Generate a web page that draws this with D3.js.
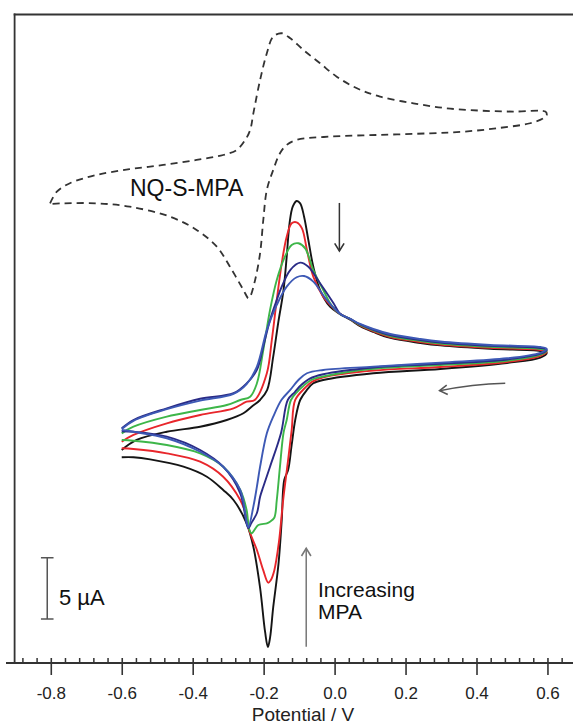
<!DOCTYPE html>
<html>
<head>
<meta charset="utf-8">
<script src="https://cdn.jsdelivr.net/npm/d3@7"></script>
<style>
  body { margin: 0; background: #fff; }
  text { font-family: "Liberation Sans", Arial, Helvetica, sans-serif; }
</style>
</head>
<body>
<div id="container"></div>
<script>
// potential (V) vs current (uA)
// each trace: forward scan (upper branch) then reverse scan (lower branch)
const nqCV = [
  [-0.802,16.04],[-0.783,16.99],[-0.746,17.68],[-0.671,18.35],[-0.578,18.82],[-0.483,19.17],[-0.389,19.58],
  [-0.314,19.98],[-0.276,20.39],[-0.252,21.21],[-0.238,22.02],[-0.229,23.38],[-0.210,26.10],[-0.191,28.28],
  [-0.173,29.63],[-0.149,29.91],[-0.125,29.50],[-0.088,28.55],[-0.041,27.46],[0.006,26.37],[0.063,25.42],
  [0.128,24.74],[0.222,24.20],[0.316,23.79],[0.410,23.60],[0.504,23.52],[0.594,23.52],[0.598,23.25],
  [0.589,22.98],[0.551,22.57],[0.457,22.16],[0.363,21.88],[0.269,21.75],[0.128,21.62],[-0.013,21.48],
  [-0.107,21.21],[-0.135,20.80],[-0.154,20.12],[-0.173,18.76],[-0.191,17.13],[-0.201,14.68],[-0.210,11.97],
  [-0.224,9.79],[-0.238,8.43],[-0.243,8.30],[-0.257,8.97],[-0.295,10.87],[-0.332,12.50],[-0.389,13.87],
  [-0.464,14.95],[-0.578,15.77],[-0.671,16.04],[-0.765,16.04],[-0.802,15.99]
]

const blackCV = [
  [-0.600,-4.08],[-0.558,-3.26],[-0.473,-2.59],[-0.379,-2.18],[-0.304,-1.63],[-0.257,-1.08],[-0.234,-0.55],
  [-0.210,0.00],[-0.190,0.82],[-0.173,3.53],[-0.159,6.28],[-0.144,8.97],[-0.135,11.69],[-0.127,14.41],
  [-0.118,15.77],[-0.107,16.23],[-0.097,16.04],[-0.086,14.95],[-0.074,13.05],[-0.060,10.87],[-0.041,8.97],
  [-0.013,7.61],[0.016,7.00],[0.044,6.55],[0.072,6.02],[0.109,5.55],[0.157,5.06],[0.242,4.65],[0.298,4.45],
  [0.439,4.17],[0.580,4.00],[0.598,3.85],
  [0.580,3.45],[0.486,3.02],[0.298,2.53],[0.109,2.18],[-0.032,1.63],[-0.060,1.36],[-0.078,0.82],[-0.097,0.00],
  [-0.111,-1.63],[-0.121,-3.67],[-0.131,-5.71],[-0.142,-6.53],[-0.149,-9.79],[-0.158,-13.32],[-0.173,-16.90],
  [-0.182,-19.40],[-0.188,-20.15],[-0.196,-18.90],[-0.210,-15.33],[-0.229,-11.97],[-0.248,-10.06],
  [-0.285,-8.16],[-0.314,-7.34],[-0.360,-6.26],[-0.426,-5.44],[-0.520,-4.84],[-0.567,-4.67],[-0.600,-4.67]
]

const redCV = [
  [-0.600,-3.40],[-0.567,-2.85],[-0.473,-1.90],[-0.379,-1.22],[-0.285,-0.68],[-0.248,-0.14],[-0.225,0.00],
  [-0.191,2.18],[-0.177,4.89],[-0.163,8.16],[-0.149,11.15],[-0.135,13.32],[-0.121,14.41],[-0.107,14.49],
  [-0.092,14.00],[-0.078,12.23],[-0.060,10.06],[-0.032,8.43],[-0.003,7.48],[0.016,7.00],[0.044,6.60],
  [0.072,6.08],[0.109,5.61],[0.157,5.14],[0.242,4.73],[0.298,4.53],[0.439,4.25],[0.580,4.08],[0.598,3.93],
  [0.580,3.60],[0.486,3.10],[0.298,2.69],[0.109,2.40],[-0.032,1.85],[-0.063,1.50],[-0.083,1.00],[-0.111,0.00],
  [-0.121,-2.45],[-0.131,-4.89],[-0.145,-8.16],[-0.157,-11.60],[-0.170,-13.90],[-0.180,-14.70],[-0.187,-14.90],
  [-0.201,-13.90],[-0.219,-12.23],[-0.241,-10.60],[-0.248,-9.52],[-0.266,-8.16],[-0.314,-6.26],[-0.379,-5.03],
  [-0.473,-4.35],[-0.567,-4.00],[-0.600,-3.94]
]

const greenCV = [
  [-0.600,-2.72],[-0.567,-2.18],[-0.473,-1.36],[-0.379,-0.82],[-0.304,-0.41],[-0.266,0.00],[-0.238,0.27],
  [-0.219,1.36],[-0.201,4.08],[-0.182,7.34],[-0.163,9.79],[-0.140,11.69],[-0.121,12.64],[-0.102,12.78],
  [-0.083,12.37],[-0.060,10.60],[-0.032,8.97],[-0.008,7.70],[0.016,7.00],[0.044,6.60],[0.072,6.12],
  [0.109,5.67],[0.157,5.22],[0.242,4.81],[0.298,4.61],[0.439,4.33],[0.580,4.16],[0.598,4.01],
  [0.580,3.70],[0.486,3.20],[0.298,2.85],[0.109,2.55],[-0.032,1.92],[-0.066,1.63],[-0.090,1.10],[-0.106,0.65],
  [-0.123,0.00],[-0.135,-1.63],[-0.144,-2.69],[-0.154,-5.44],[-0.163,-8.16],[-0.170,-9.60],[-0.182,-9.93],
  [-0.191,-10.06],[-0.215,-10.20],[-0.234,-10.87],[-0.241,-10.50],[-0.248,-8.97],[-0.266,-7.34],[-0.314,-5.44],
  [-0.379,-4.35],[-0.473,-3.67],[-0.567,-3.32],[-0.600,-3.26]
]

const navyCV = [
  [-0.600,-2.31],[-0.567,-1.63],[-0.473,-0.68],[-0.379,0.10],[-0.285,0.55],[-0.248,1.36],[-0.219,2.45],
  [-0.201,4.35],[-0.182,6.53],[-0.163,8.16],[-0.149,9.24],[-0.125,10.60],[-0.097,11.20],[-0.074,10.87],
  [-0.041,9.52],[-0.003,7.89],[0.016,7.01],[0.044,6.61],[0.072,6.16],[0.109,5.73],[0.157,5.30],[0.242,4.89],
  [0.298,4.69],[0.439,4.41],[0.580,4.24],[0.598,4.09],
  [0.580,3.78],[0.486,3.30],[0.298,2.95],[0.109,2.65],[-0.032,2.10],[-0.070,1.75],[-0.095,1.20],[-0.112,0.65],
  [-0.132,0.00],[-0.151,-2.69],[-0.182,-5.44],[-0.201,-7.07],[-0.210,-7.89],[-0.219,-9.22],[-0.235,-10.06],
  [-0.243,-10.47],[-0.248,-10.10],[-0.266,-7.61],[-0.314,-5.44],[-0.379,-4.08],[-0.473,-2.99],[-0.567,-2.59],
  [-0.600,-2.55]
]

const blueCV = [
  [-0.600,-2.37],[-0.567,-1.70],[-0.473,-0.75],[-0.379,-0.05],[-0.285,0.50],[-0.248,1.30],[-0.219,2.72],
  [-0.191,5.71],[-0.163,7.75],[-0.135,9.24],[-0.107,10.01],[-0.086,10.11],[-0.060,9.65],[-0.022,8.16],
  [0.016,7.01],[0.044,6.61],[0.072,6.20],[0.109,5.79],[0.157,5.38],[0.242,4.97],[0.298,4.77],[0.439,4.49],
  [0.580,4.32],[0.598,4.17],
  [0.580,3.85],[0.486,3.40],[0.298,3.05],[0.109,2.72],[-0.032,2.45],[-0.078,2.18],[-0.102,1.63],[-0.125,0.82],
  [-0.150,0.00],[-0.173,-1.36],[-0.191,-2.72],[-0.210,-5.44],[-0.219,-7.07],[-0.229,-8.70],[-0.243,-10.38],
  [-0.248,-9.93],[-0.266,-7.34],[-0.314,-5.44],[-0.379,-4.22],[-0.473,-3.12],[-0.567,-2.59],[-0.600,-2.45]
]

const traces = [
  { data: blackCV, color: '#151515' },
  { data: redCV, color: '#e8262b' },
  { data: greenCV, color: '#3db649' },
  { data: navyCV, color: '#2a2b86' },
  { data: blueCV, color: '#3d59b5' }
]

const majorTicks = [-0.8, -0.6, -0.4, -0.2, 0.0, 0.2, 0.4, 0.6]
const majorLabels = ['-0.8', '-0.6', '-0.4', '-0.2', '0.0', '0.2', '0.4', '0.6']
const minorTicks = [-0.88, -0.84, -0.76, -0.72, -0.68, -0.64, -0.56, -0.52, -0.48, -0.44,
  -0.36, -0.32, -0.28, -0.24, -0.16, -0.12, -0.08, -0.04, 0.04, 0.08, 0.12, 0.16,
  0.24, 0.28, 0.32, 0.36, 0.44, 0.48, 0.52, 0.56, 0.64]

// annotation arrows in data units [E, I]
const arrows = [
  { from: [0.0135, 16.07], to: [0.0135, 12.15], color: '#333' },
  { from: [0.481, 1.36], to: [0.296, 0.76], color: '#555', bend: true },
  { from: [-0.080, -20.12], to: [-0.080, -12.10], color: '#777' }
]

// 5 uA scale bar
const scaleBarE = -0.81
const scaleBarLow = -17.86
const scaleBarSize = 5

//Width and height
const w = 573
const h = 725

const x = d3.scaleLinear().domain([-0.902, 0.672]).range([14.6, 573])
const y = d3.scaleLinear().domain([-21.45, 31.48]).range([663, 14])

const svg = d3.select('#container')
  .append('svg')
  .attr('width', w)
  .attr('height', h)

const line = d3.line()
  .x(d => x(d[0]))
  .y(d => y(d[1]))
  .curve(d3.curveCatmullRom.alpha(0.5))

//frame
svg.append('line')
  .attr('x1', 14.6).attr('x2', 14.6).attr('y1', 13.6).attr('y2', 663)
  .attr('stroke', '#333').attr('stroke-width', 1.8)
svg.append('line')
  .attr('x1', 13.7).attr('x2', w).attr('y1', 14.5).attr('y2', 14.5)
  .attr('stroke', '#333').attr('stroke-width', 1.8)

// dashed reference trace
svg.append('path')
  .attr('d', line(nqCV))
  .attr('fill', 'none')
  .attr('stroke', '#333')
  .attr('stroke-width', 1.8)
  .attr('stroke-dasharray', '7,5')

svg.selectAll('path.cv')
  .data(traces)
  .enter()
  .append('path')
  .attr('class', 'cv')
  .attr('d', d => line(d.data))
  .attr('fill', 'none')
  .attr('stroke', d => d.color)
  .attr('stroke-width', 1.9)

//x axis
const axisG = svg.append('g').attr('transform', 'translate(0,663)')
axisG.call(d3.axisBottom(x)
  .tickValues(majorTicks)
  .tickFormat((d, i) => majorLabels[i])
  .tickSizeInner(12)
  .tickSizeOuter(0)
  .tickPadding(12))
axisG.select('.domain').remove()
axisG.selectAll('.tick line')
  .attr('y1', -5)
  .attr('stroke', '#333')
  .attr('stroke-width', 1.6)
axisG.selectAll('.tick text')
  .attr('font-size', 17)
  .attr('fill', '#222')
  .attr('font-family', '"Liberation Sans", Arial, sans-serif')

const minorG = svg.append('g').attr('transform', 'translate(0,663)')
minorG.call(d3.axisBottom(x).tickValues(minorTicks).tickSize(-5).tickFormat(''))
minorG.select('.domain').remove()
minorG.selectAll('.tick line')
  .attr('stroke', '#333')
  .attr('stroke-width', 1.5)

svg.append('line')
  .attr('x1', 6).attr('x2', w).attr('y1', 663).attr('y2', 663)
  .attr('stroke', '#333').attr('stroke-width', 1.8)

svg.append('text')
  .attr('x', 303)
  .attr('y', 721)
  .attr('text-anchor', 'middle')
  .attr('font-size', 19)
  .attr('fill', '#222')
  .text('Potential / V')

//arrows
const drawArrow = a => {
  const x1 = x(a.from[0]), y1 = y(a.from[1])
  const x2 = x(a.to[0]), y2 = y(a.to[1])
  let d
  if (a.bend) {
    const cx = (x1 + x2) / 2, cy = Math.min(y1, y2) + 1
    d = `M${x1},${y1} Q${cx},${cy} ${x2},${y2}`
  } else {
    d = `M${x1},${y1} L${x2},${y2}`
  }
  svg.append('path')
    .attr('d', d)
    .attr('fill', 'none')
    .attr('stroke', a.color)
    .attr('stroke-width', 1.5)
  const ang = Math.atan2(y2 - y1, x2 - x1)
  const len = 9, spread = 0.55
  const p1 = [x2 - len * Math.cos(ang - spread), y2 - len * Math.sin(ang - spread)]
  const p2 = [x2 - len * Math.cos(ang + spread), y2 - len * Math.sin(ang + spread)]
  svg.append('path')
    .attr('d', `M${p1[0]},${p1[1]} L${x2},${y2} L${p2[0]},${p2[1]}`)
    .attr('fill', 'none')
    .attr('stroke', a.color)
    .attr('stroke-width', 1.6)
}
arrows.forEach(drawArrow)

//scale bar
const sbx = x(scaleBarE)
const sbTop = y(scaleBarLow + scaleBarSize)
const sbBottom = y(scaleBarLow)
svg.append('path')
  .attr('d', `M${sbx - 6.3},${sbTop} H${sbx + 6.3} M${sbx},${sbTop} V${sbBottom} M${sbx - 6.3},${sbBottom} H${sbx + 6.3}`)
  .attr('fill', 'none')
  .attr('stroke', '#555')
  .attr('stroke-width', 1.5)

svg.append('text')
  .attr('x', 59)
  .attr('y', 605)
  .attr('font-size', 22)
  .attr('fill', '#111')
  .text('5 \u00b5A')

svg.append('text')
  .attr('x', 130)
  .attr('y', 196)
  .attr('font-size', 23)
  .attr('fill', '#111')
  .text('NQ-S-MPA')

svg.append('text')
  .attr('x', 318)
  .attr('y', 597)
  .attr('font-size', 21)
  .attr('fill', '#111')
  .text('Increasing')

svg.append('text')
  .attr('x', 318)
  .attr('y', 619)
  .attr('font-size', 21)
  .attr('fill', '#111')
  .text('MPA')
</script>
</body>
</html>
